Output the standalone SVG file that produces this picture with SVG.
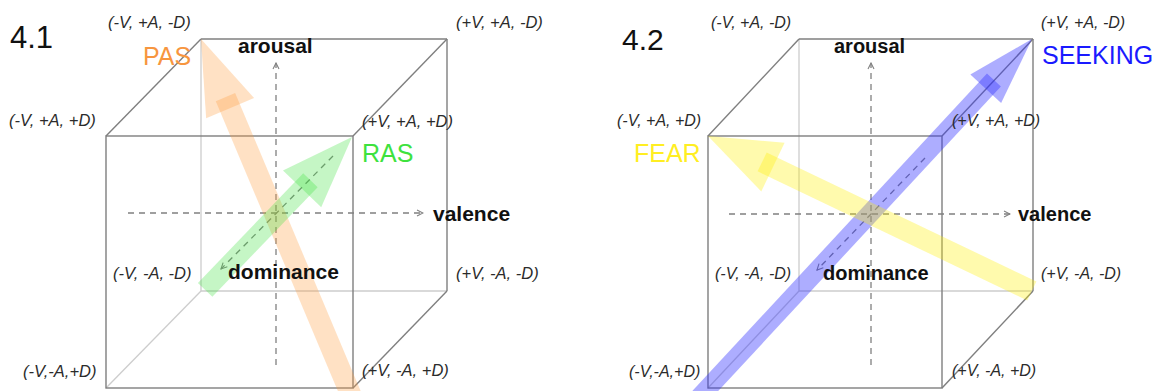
<svg xmlns="http://www.w3.org/2000/svg" width="1158" height="391" viewBox="0 0 1158 391">
<style>
.bg{fill:#ffffff}
.edge{stroke:#7f7f7f;stroke-width:1.4;fill:none}
.hid{stroke:#cdcdcd;stroke-width:1.3;fill:none}
.axis{stroke:#808080;stroke-width:1.3;fill:none;stroke-dasharray:6 5}
.corner{font-family:"Liberation Sans",Arial,sans-serif;font-style:italic;fill:#2b2b2b}
.l{font-size:16.5px}
.r{font-size:16px}
.ax{font-family:"Liberation Sans",Arial,sans-serif;font-weight:bold;fill:#111}
.num{font-family:"Liberation Sans",Arial,sans-serif;fill:#111}
.nm{font-family:"Liberation Sans",Arial,sans-serif;font-size:25px}
</style>
<defs>
<marker id="ah" viewBox="0 0 8 8" refX="7" refY="4" markerWidth="8" markerHeight="8" markerUnits="userSpaceOnUse" orient="auto">
<path d="M1,1 L7,4 L1,7" fill="none" stroke="#808080" stroke-width="1.1"/>
</marker>
</defs>
<rect class="bg" x="0" y="0" width="1158" height="391"/>

<g id="cube41">
<line class="hid" x1="201" y1="39" x2="201" y2="291"/>
<line class="hid" x1="201" y1="291" x2="447" y2="291"/>
<line class="hid" x1="106" y1="388" x2="201" y2="291"/>
<line class="edge" x1="201" y1="39" x2="447" y2="39"/>
<line class="edge" x1="447" y1="39" x2="447" y2="291"/>
<line class="edge" x1="106" y1="136" x2="201" y2="39"/>
<line class="edge" x1="353" y1="136" x2="447" y2="39"/>
<line class="edge" x1="353" y1="388" x2="447" y2="291"/>
<rect class="edge" x="106" y="136" width="247" height="252"/>
<line class="axis" x1="276" y1="365" x2="276" y2="63" marker-end="url(#ah)"/>
<line class="axis" x1="128" y1="213" x2="423" y2="213" marker-end="url(#ah)"/>
<line class="axis" x1="333" y1="156" x2="221" y2="269" marker-end="url(#ah)"/>
</g>

<g id="cube42">
<line class="hid" x1="799" y1="39" x2="799" y2="291"/>
<line class="hid" x1="799" y1="291" x2="1033" y2="291"/>
<line class="hid" x1="708" y1="388" x2="799" y2="291"/>
<line class="edge" x1="799" y1="39" x2="1033" y2="39"/>
<line class="edge" x1="1033" y1="39" x2="1033" y2="291"/>
<line class="edge" x1="708" y1="136" x2="799" y2="39"/>
<line class="edge" x1="942" y1="136" x2="1033" y2="39"/>
<line class="edge" x1="942" y1="388" x2="1033" y2="291"/>
<rect class="edge" x="708" y="136" width="234" height="252"/>
<line class="axis" x1="871" y1="365" x2="871" y2="63" marker-end="url(#ah)"/>
<line class="axis" x1="729" y1="214" x2="1010" y2="214" marker-end="url(#ah)"/>
<line class="axis" x1="925" y1="158" x2="817" y2="270" marker-end="url(#ah)"/>
</g>

<g id="connectors">
<g id="arrow-PAS" transform="translate(201,39) rotate(-112.84)" fill="#ff9a3c" fill-opacity="0.3">
<rect x="-392" y="-10.5" width="329" height="21"/>
<polygon points="-75,-26 0,0 -75,26"/>
</g>
<g id="arrow-RAS" transform="translate(352,137) rotate(-46.15)" fill="#40e040" fill-opacity="0.3">
<rect x="-212" y="-10" width="152" height="20"/>
<polygon points="-72,-26.5 0,0 -72,26.5"/>
</g>
<g id="arrow-SEEKING" transform="translate(1032,39) rotate(-47.13)" fill="#3333ff" fill-opacity="0.4">
<rect x="-495" y="-9.5" width="439" height="19"/>
<polygon points="-68,-21 0,0 -68,21"/>
</g>
<g id="arrow-FEAR" transform="translate(708,136) rotate(-154.43)" fill="#ffee00" fill-opacity="0.32">
<rect x="-359" y="-10.5" width="299" height="21"/>
<polygon points="-72,-27 0,0 -72,27"/>
</g>
</g>

<g id="labels41">
<text class="num" x="10" y="48" font-size="31">4.1</text>
<text class="nm" x="143" y="65" fill="#f7963f">PAS</text>
<text class="nm" x="362" y="162" fill="#3ee23e">RAS</text>
<text class="ax" x="238" y="53" font-size="21">arousal</text>
<text class="ax" x="433" y="221" font-size="21">valence</text>
<text class="ax" x="228" y="279" font-size="21">dominance</text>
<text class="corner l" x="108" y="28">(-V, +A, -D)</text>
<text class="corner l" x="456" y="28">(+V, +A, -D)</text>
<text class="corner l" x="9" y="126">(-V, +A, +D)</text>
<text class="corner l" x="362" y="127">(+V, +A, +D)</text>
<text class="corner l" x="113" y="279">(-V, -A, -D)</text>
<text class="corner l" x="456" y="279">(+V, -A, -D)</text>
<text class="corner l" x="23" y="377">(-V,-A,+D)</text>
<text class="corner l" x="362" y="376">(+V, -A, +D)</text>
</g>

<g id="labels42">
<text class="num" x="622" y="50" font-size="30">4.2</text>
<text class="nm" x="634" y="162" fill="#ffee22">FEAR</text>
<text class="nm" x="1042" y="64" fill="#1a1aff">SEEKING</text>
<text class="ax" x="834" y="53" font-size="20">arousal</text>
<text class="ax" x="1018" y="221" font-size="20">valence</text>
<text class="ax" x="823" y="280" font-size="20">dominance</text>
<text class="corner r" x="711" y="28">(-V, +A, -D)</text>
<text class="corner r" x="1041" y="28">(+V, +A, -D)</text>
<text class="corner r" x="617" y="126">(-V, +A, +D)</text>
<text class="corner r" x="952" y="126">(+V, +A, +D)</text>
<text class="corner r" x="715" y="279">(-V, -A, -D)</text>
<text class="corner r" x="1041" y="279">(+V, -A, -D)</text>
<text class="corner r" x="629" y="377">(-V,-A,+D)</text>
<text class="corner r" x="952" y="376">(+V, -A, +D)</text>
</g>
</svg>
